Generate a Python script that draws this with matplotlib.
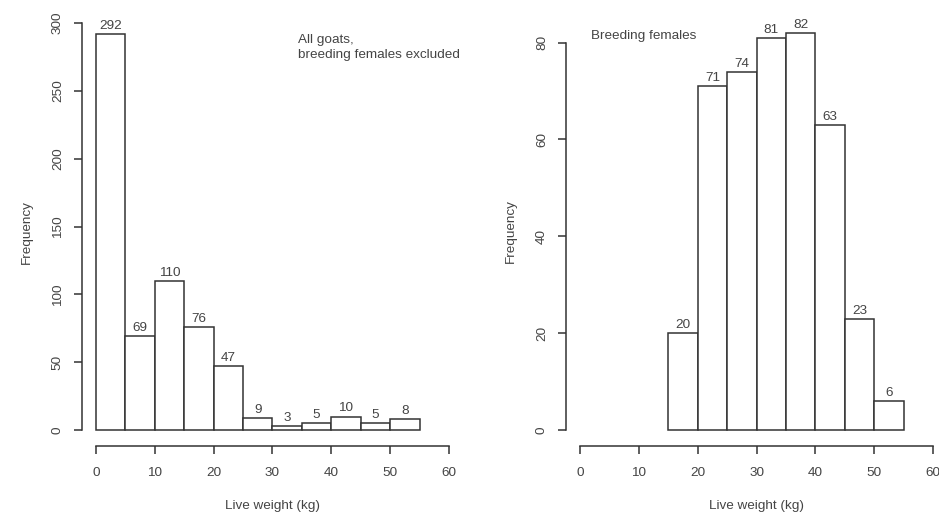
import numpy as np
import matplotlib.pyplot as plt

# histogram bins (kg) and counts for the two groups
edges_all = [0, 5, 10, 15, 20, 25, 30, 35, 40, 45, 50, 55]
counts_all = [292, 69, 110, 76, 47, 9, 3, 5, 10, 5, 8]

edges_breed = [15, 20, 25, 30, 35, 40, 45, 50, 55]
counts_breed = [20, 71, 74, 81, 82, 63, 23, 6]

x_ticks = [0, 10, 20, 30, 40, 50, 60]
y_ticks_all = [0, 50, 100, 150, 200, 250, 300]
y_ticks_breed = [0, 20, 40, 60, 80]

plt.rcParams['font.family'] = ['Liberation Sans', 'DejaVu Sans']
plt.rcParams['font.size'] = 9.7

ink = '#333333'
txt = '#444444'

fig = plt.figure(figsize=(9.39, 5.14), dpi=100)
ax1 = fig.add_axes([0.0873, 0.1323, 0.4058, 0.8327])
ax2 = fig.add_axes([0.6028, 0.1323, 0.4058, 0.8346])


def r_hist(ax, edges, counts, yticks, ymax):
    edges = np.asarray(edges)
    left = edges[:-1]
    width = np.diff(edges)
    ax.bar(left, counts, width=width, align='edge', facecolor='white',
           edgecolor=ink, linewidth=1.1)
    for l, w, c in zip(left, width, counts):
        ax.annotate(str(c), (l + w / 2, c), xytext=(0, 1.5),
                    textcoords='offset points', ha='center', va='bottom',
                    color=txt)

    # R-like axes: 4% padding, spines only over the tick range
    ax.set_xlim(-2.4, 62.4)
    ax.set_ylim(-0.04 * ymax, 1.04 * ymax)
    for s in ['top', 'right']:
        ax.spines[s].set_visible(False)
    ax.spines['left'].set_bounds(yticks[0], yticks[-1])
    ax.spines['bottom'].set_bounds(x_ticks[0], x_ticks[-1])
    for s in ['left', 'bottom']:
        ax.spines[s].set_color(ink)
        ax.spines[s].set_linewidth(1.1)
    ax.set_xticks(x_ticks)
    ax.set_yticks(yticks)
    ax.tick_params(axis='both', length=6, width=1.1, color=ink, labelcolor=txt)
    ax.tick_params(axis='x', pad=9)
    ax.tick_params(axis='y', pad=7)
    for lab in ax.get_yticklabels():
        lab.set_rotation(90)
        lab.set_va('center')
    ax.set_xlabel('Live weight (kg)', color=txt)
    ax.set_ylabel('Frequency', color=txt)
    ax.xaxis.set_label_coords(0.5, -0.126)
    ax.yaxis.set_label_coords(-0.13, 0.5)


r_hist(ax1, edges_all, counts_all, y_ticks_all, max(counts_all))
r_hist(ax2, edges_breed, counts_breed, y_ticks_breed, max(counts_breed))

ax1.text(34.4, 282, 'All goats,\nbreeding females excluded', ha='left',
         va='center', color=txt, linespacing=1.35)
ax2.text(1.8, 81.4, 'Breeding females', ha='left', va='center', color=txt)

fig.savefig('out.png', dpi=100)
